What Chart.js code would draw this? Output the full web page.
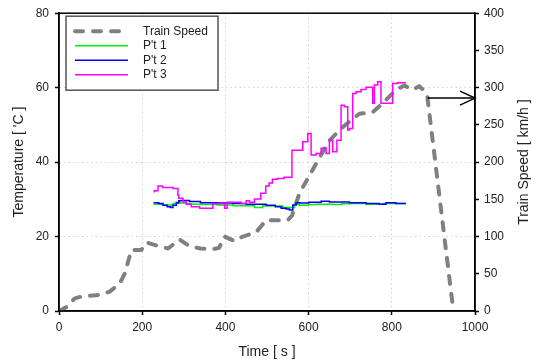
<!DOCTYPE html>
<html><head><meta charset="utf-8">
<script src="https://cdn.jsdelivr.net/npm/chart.js@4.4.0/dist/chart.umd.min.js"></script>
<style>html,body{margin:0;padding:0;background:#fff;}#wrap{width:538px;height:363px;}</style>
</head><body><div id="wrap"><canvas id="c" width="538" height="363"></canvas></div>
<script>
// ---- data ----
const speedTime = [0, 20, 38, 58, 90, 106, 122, 146, 158, 174, 198, 210, 235, 262, 290, 314, 340, 370, 385, 398, 422, 442, 474, 498, 550, 560, 578, 618, 650, 682, 722, 754, 778, 810, 830, 850, 866, 878, 885, 948];
const speedKmh  = [0, 6, 17, 20, 21, 23, 26, 37, 50, 82, 82, 92, 88, 84, 96, 87, 84, 83, 85, 100, 94, 100, 106, 122, 122, 128, 158, 198, 229, 247, 265, 267, 279, 297, 303, 297, 302, 296, 290, 0];

const p1Time = [229, 250, 274, 282, 290, 305, 314, 338, 380, 418, 470, 490, 498, 538, 546, 566, 570, 578, 600, 620, 658, 680, 700, 738, 780, 818, 834];
const p1Temp = [28.9, 28.7, 28.5, 28.9, 29.2, 29.0, 28.9, 28.7, 28.6, 28.5, 28.3, 27.8, 28.3, 28.2, 27.8, 27.8, 28.7, 28.6, 28.4, 28.6, 28.7, 28.6, 28.8, 28.9, 28.7, 28.9, 28.9];

const p2Time = [229, 240, 250, 260, 268, 274, 282, 288, 294, 314, 340, 380, 418, 450, 498, 520, 534, 546, 554, 562, 570, 578, 600, 630, 650, 670, 698, 738, 770, 786, 810, 826, 834];
const p2Temp = [29.3, 29.1, 28.9, 28.4, 28.0, 27.8, 28.4, 29.0, 29.6, 29.7, 29.4, 29.1, 29.0, 28.9, 28.7, 28.4, 28.0, 27.6, 27.4, 27.1, 28.5, 29.1, 29.0, 29.2, 29.5, 29.3, 29.3, 29.1, 28.9, 28.7, 29.1, 28.9, 28.9];

const p3Time = [229, 238, 249, 274, 286, 288, 298, 306, 318, 338, 370, 398, 404, 438, 450, 458, 470, 485, 497, 505, 513, 525, 541, 560, 586, 598, 606, 618, 630, 642, 650, 658, 668, 678, 686, 694, 698, 706, 714, 726, 738, 754, 758, 766, 774, 802, 814, 822, 834];
const p3Temp = [31.8, 32.3, 33.6, 33.2, 32.9, 31.1, 30.3, 29.3, 28.7, 28.0, 27.6, 28.8, 27.6, 29.2, 28.9, 29.6, 29.2, 30.1, 31.6, 33.6, 34.4, 35.4, 35.6, 35.9, 43.2, 45.5, 47.7, 41.9, 42.3, 43.7, 42.3, 45.9, 42.8, 45.9, 55.3, 54.9, 48.6, 49.0, 58.4, 58.9, 59.5, 60.1, 55.8, 60.7, 61.6, 55.8, 61.1, 61.3, 61.3];

const seriesLabels = ['Train Speed', "P't 1", "P't 2", "P't 3"];
const xTickValues = [0, 200, 400, 600, 800, 1000];
const tempTickValues = [0, 20, 40, 60, 80];
const speedTickValues = [0, 50, 100, 150, 200, 250, 300, 350, 400];
const arrowTime = [886, 1000];
const arrowSpeed = 286;

// ---- helpers ----
const pts = (xs, ys) => xs.map((x, i) => ({x: x, y: ys[i]}));
const FONT = "'Liberation Sans', Arial, sans-serif";
const gridColor = '#d2d2d2';
const plain = v => String(v);
const SPEED_DASH = [8, 10];

const legendItems = [
  {label: seriesLabels[0], color: '#808080', width: 4, dash: SPEED_DASH, cap: 'round'},
  {label: seriesLabels[1], color: '#00ee00', width: 1.5, dash: [], cap: 'butt'},
  {label: seriesLabels[2], color: '#0000ff', width: 1.5, dash: [], cap: 'butt'},
  {label: seriesLabels[3], color: '#ff00ff', width: 1.5, dash: [], cap: 'butt'}
];

const decor = {
  id: 'decor',
  afterDraw(chart) {
    const ctx = chart.ctx, a = chart.chartArea;
    const xs = chart.scales.x, ys = chart.scales.ySpeed;
    ctx.save();
    // frame
    ctx.strokeStyle = '#000'; ctx.lineWidth = 1.5; ctx.setLineDash([]);
    ctx.strokeRect(a.left, a.top, a.right - a.left, a.bottom - a.top);
    // arrow
    const x1 = xs.getPixelForValue(arrowTime[0]), x2 = xs.getPixelForValue(arrowTime[1]);
    const y = ys.getPixelForValue(arrowSpeed);
    ctx.lineWidth = 1.5;
    ctx.beginPath(); ctx.moveTo(x1, y); ctx.lineTo(x2, y); ctx.stroke();
    ctx.beginPath(); ctx.moveTo(x2 - 15, y - 7); ctx.lineTo(x2, y); ctx.lineTo(x2 - 15, y + 7); ctx.stroke();
    // legend
    const bx = a.left + 7, by = a.top + 3, bw = 152, bh = 74;
    ctx.fillStyle = '#fff'; ctx.fillRect(bx, by, bw, bh);
    ctx.strokeStyle = '#555'; ctx.lineWidth = 1.5; ctx.strokeRect(bx, by, bw, bh);
    ctx.font = '12px ' + FONT; ctx.textBaseline = 'middle'; ctx.textAlign = 'left';
    legendItems.forEach((it, i) => {
      const ly = by + 15 + i * 14.5;
      ctx.strokeStyle = it.color; ctx.lineWidth = it.width; ctx.setLineDash(it.dash); ctx.lineCap = it.cap;
      ctx.beginPath(); ctx.moveTo(bx + 9, ly); ctx.lineTo(bx + 62, ly); ctx.stroke();
      ctx.setLineDash([]); ctx.lineCap = 'butt';
      ctx.fillStyle = '#222'; ctx.fillText(it.label, bx + 77, ly);
    });
    // right axis title (reads bottom to top)
    ctx.translate(524, (a.top + a.bottom) / 2);
    ctx.rotate(-Math.PI / 2);
    ctx.font = '14px ' + FONT; ctx.textAlign = 'center'; ctx.fillStyle = '#222';
    ctx.fillText('Train Speed [ km/h ]', 0, 0);
    ctx.restore();
  }
};

new Chart(document.getElementById('c'), {
  type: 'line',
  data: {
    datasets: [
      {label: seriesLabels[0], data: pts(speedTime, speedKmh), yAxisID: 'ySpeed', borderColor: '#808080', borderWidth: 4, borderDash: SPEED_DASH, borderCapStyle: 'round', borderJoinStyle: 'round', pointRadius: 0, order: 4},
      {label: seriesLabels[1], data: pts(p1Time, p1Temp), yAxisID: 'yTemp', borderColor: '#00ee00', borderWidth: 1.5, stepped: 'after', pointRadius: 0, order: 3},
      {label: seriesLabels[2], data: pts(p2Time, p2Temp), yAxisID: 'yTemp', borderColor: '#0000ff', borderWidth: 1.5, stepped: 'after', pointRadius: 0, order: 2},
      {label: seriesLabels[3], data: pts(p3Time, p3Temp), yAxisID: 'yTemp', borderColor: '#ff00ff', borderWidth: 1.5, stepped: 'after', pointRadius: 0, order: 1}
    ]
  },
  options: {
    responsive: false, animation: false,
    layout: {padding: {top: 13, left: 0, right: 0, bottom: 0}},
    plugins: {legend: {display: false}, tooltip: {enabled: false}},
    elements: {line: {tension: 0, fill: false}},
    scales: {
      x: {
        type: 'linear', min: 0, max: 1000,
        afterBuildTicks: s => { s.ticks = xTickValues.map(v => ({value: v})); },
        afterFit: s => { s.height = 52; },
        grid: {color: c => (c.tick && (c.tick.value === 0 || c.tick.value === 1000)) ? 'rgba(0,0,0,0)' : gridColor, lineWidth: 1, tickColor: '#000', tickLength: 4, tickWidth: 1.5},
        border: {display: true, color: '#000', width: 1.5, dash: [1.5, 3]},
        ticks: {color: '#222', font: {family: FONT, size: 12}, padding: 5, maxRotation: 0, callback: plain},
        title: {display: true, text: 'Time [ s ]', color: '#222', font: {family: FONT, size: 14}, padding: {top: 0, bottom: 2.6}}
      },
      yTemp: {
        type: 'linear', position: 'left', min: 0, max: 80,
        afterBuildTicks: s => { s.ticks = tempTickValues.map(v => ({value: v})); },
        afterFit: s => { s.width = 59; },
        grid: {color: c => (c.tick && (c.tick.value === 0 || c.tick.value === 80)) ? 'rgba(0,0,0,0)' : gridColor, lineWidth: 1, tickColor: '#000', tickLength: 4, tickWidth: 1.5},
        border: {display: true, color: '#000', width: 1.5, dash: [1.5, 3]},
        ticks: {color: '#222', font: {family: FONT, size: 12}, padding: 6, callback: plain},
        title: {display: true, text: "Temperature [ 'C ]", color: '#222', font: {family: FONT, size: 14}, padding: {top: 10.6, bottom: 0}}
      },
      ySpeed: {
        type: 'linear', position: 'right', min: 0, max: 400,
        afterBuildTicks: s => { s.ticks = speedTickValues.map(v => ({value: v})); },
        afterFit: s => { s.width = 63; },
        grid: {drawOnChartArea: false, tickColor: '#000', tickLength: 4, tickWidth: 1.5},
        border: {display: true, color: '#000', width: 1.5},
        ticks: {color: '#222', font: {family: FONT, size: 12}, padding: 5, callback: plain}
      }
    }
  },
  plugins: [decor]
});
</script>
</body></html>
